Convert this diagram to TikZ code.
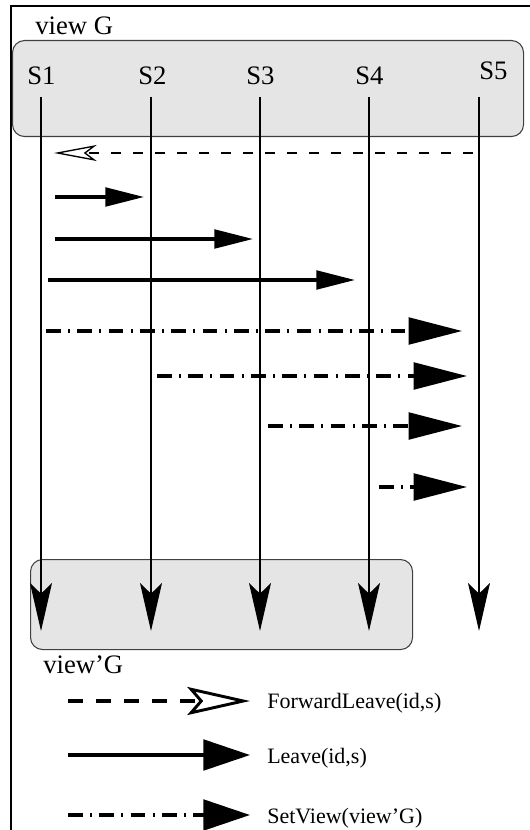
\documentclass[tikz,border=0pt]{standalone}
\usepackage{fontspec}
\setmainfont{Liberation Serif}
\usetikzlibrary{arrows.meta}
\begin{document}
\begin{tikzpicture}[x=0.75pt,y=-0.75pt,
  bigtext/.style={font=\fontsize{20pt}{22pt}\selectfont, inner sep=0pt, anchor=base west},
  legtext/.style={font=\fontsize{16.5pt}{18pt}\selectfont, inner sep=0pt, anchor=base west},
  viewbox/.style={draw=black!75, fill=black!10, line width=0.8pt, rounded corners=9pt},
  lifeline/.style={line width=1pt, -{Stealth[length=36pt, width=16.5pt, inset=8pt]}},
  fwd/.style={line width=1pt, dash pattern=on 7.5pt off 9pt, -{Stealth[open, length=32pt, width=12pt, inset=8pt, line width=1pt]}},
  leave/.style={line width=2.4pt, -{Triangle[length=29pt, width=14pt]}},
  setview/.style={line width=2.4pt, dash pattern=on 11pt off 5.5pt on 1.5pt off 5.5pt, -{Triangle[length=40pt, width=20pt]}},
  legfwd/.style={line width=2.4pt, dash pattern=on 11pt off 10pt, -{Stealth[open, length=47pt, width=21pt, inset=9pt, line width=2.2pt]}},
  legleave/.style={line width=2.4pt, -{Triangle[length=35pt, width=23pt]}},
  legset/.style={line width=2.4pt, dash pattern=on 11pt off 5.5pt on 1.5pt off 5.5pt, -{Triangle[length=35pt, width=23pt]}}
]
\useasboundingbox (0,0) rectangle (530,830);
% outer frame
\draw[line width=1.6pt] (11,6) rectangle (560,860);
% view boxes
\node[viewbox, minimum width=511*0.75pt, minimum height=96*0.75pt, anchor=north west] (vg) at (12,40) {};
\node[viewbox, minimum width=382*0.75pt, minimum height=90*0.75pt, anchor=north west] (vgp) at (30,559) {};
% labels
\node[bigtext] (lvg) at (35,35) {view G};
\node[bigtext] (lvgp) at (43,673) {view'G};
\node[bigtext] (s1) at (27,85) {S1};
\node[bigtext] (s2) at (138,85) {S2};
\node[bigtext] (s3) at (246,85) {S3};
\node[bigtext] (s4) at (355,85) {S4};
\node[bigtext] (s5) at (479,80) {S5};
% lifeline coordinates
\foreach \i/\x in {1/41,2/151,3/260,4/369,5/479}{
  \coordinate (t\i) at (\x,97);
  \coordinate (b\i) at (\x,631);
}
\foreach \i in {1,...,5}{ \draw[lifeline] (t\i) -- (b\i); }
% ForwardLeave message
\coordinate (f0) at (473,153);
\coordinate (f1) at (54,153);
\draw[fwd] (f0) -- (f1);
% Leave messages
\coordinate (l1a) at (55,197); \coordinate (l1b) at (144,197);
\coordinate (l2a) at (55,239); \coordinate (l2b) at (253,239);
\coordinate (l3a) at (48,280); \coordinate (l3b) at (355,280);
\draw[leave] (l1a) -- (l1b);
\draw[leave] (l2a) -- (l2b);
\draw[leave] (l3a) -- (l3b);
% SetView messages
\coordinate (v1a) at (46,331);  \coordinate (v1b) at (462,331);
\coordinate (v2a) at (157,376); \coordinate (v2b) at (467,376);
\coordinate (v3a) at (268,426); \coordinate (v3b) at (462,426);
\coordinate (v4a) at (379,487); \coordinate (v4b) at (467,487);
\draw[setview] (v1a) -- (v1b);
\draw[setview] (v2a) -- (v2b);
\draw[setview] (v3a) -- (v3b);
\draw[setview] (v4a) -- (v4b);
% legend
\coordinate (g1a) at (68,701); \coordinate (g1b) at (250,701);
\coordinate (g2a) at (68,755); \coordinate (g2b) at (250,755);
\coordinate (g3a) at (68,815); \coordinate (g3b) at (250,815);
\draw[legfwd] (g1a) -- (g1b);
\draw[legleave] (g2a) -- (g2b);
\draw[legset] (g3a) -- (g3b);
\node[legtext] (tfwd) at (267,708) {ForwardLeave(id,s)};
\node[legtext] (tleave) at (267,763) {Leave(id,s)};
\node[legtext] (tset) at (267,823) {SetView(view'G)};
\end{tikzpicture}
\end{document}
